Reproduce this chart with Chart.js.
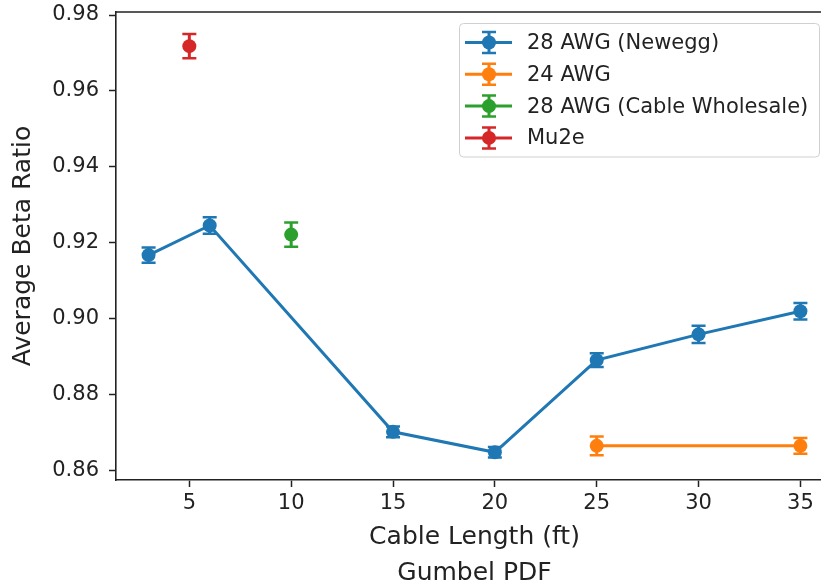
<!DOCTYPE html>
<html>
<head>
<meta charset="utf-8">
<script src="https://cdn.jsdelivr.net/npm/chart.js@4.4.1/dist/chart.umd.min.js"></script>
<style>
  html, body { margin: 0; padding: 0; background: #fff; }
  #wrap { width: 821px; height: 585px; overflow: hidden; position: relative; }
  canvas { display: block; }
</style>
</head>
<body>
<div id="wrap"><canvas id="c" width="840" height="585"></canvas></div>
<script>
// Cable length (ft) and measured average beta ratio with 1-sigma errors
const neweggLength = [3, 6, 15, 20, 25, 30, 35];
const neweggBeta   = [0.9167, 0.9245, 0.8701, 0.8647, 0.8890, 0.8958, 0.9019];
const neweggErr    = [0.0020, 0.0022, 0.0014, 0.0014, 0.0018, 0.0023, 0.0022];

const awg24Length = [25, 35];
const awg24Beta   = [0.8664, 0.8664];
const awg24Err    = [0.0025, 0.0021];

const wholesaleLength = [10];
const wholesaleBeta   = [0.9221];
const wholesaleErr    = [0.0032];

const mu2eLength = [5];
const mu2eBeta   = [0.9718];
const mu2eErr    = [0.0032];

const seriesNames = ['28 AWG (Newegg)', '24 AWG', '28 AWG (Cable Wholesale)', 'Mu2e'];
const seriesColors = ['#1f77b4', '#ff7f0e', '#2ca02c', '#d62728'];

const xTickValues = [5, 10, 15, 20, 25, 30, 35];
const yTickValues = [0.86, 0.88, 0.90, 0.92, 0.94, 0.96, 0.98];

const X_MIN = 1.4, X_MAX = 36.6;
const Y_MIN = 0.8574, Y_MAX = 0.9808;

const FONT = 'DejaVu Sans';
const INK = '#222';

function points(xs, ys, es) {
  return xs.map((x, i) => ({ x: x, y: ys[i], err: es[i] }));
}

function makeDataset(i, xs, ys, es) {
  return {
    label: seriesNames[i],
    data: points(xs, ys, es),
    borderColor: seriesColors[i],
    backgroundColor: seriesColors[i],
    pointBackgroundColor: seriesColors[i],
    pointBorderWidth: 0,
    pointRadius: 7,
    pointHoverRadius: 7,
    borderWidth: 3,
    showLine: true,
    fill: false,
    tension: 0
  };
}

// vertical error bars with caps, drawn underneath the markers
const errorBars = {
  id: 'errorBars',
  beforeDatasetsDraw(chart) {
    const ctx = chart.ctx;
    const ys = chart.scales.y;
    chart.data.datasets.forEach((ds, di) => {
      const meta = chart.getDatasetMeta(di);
      ctx.save();
      ctx.strokeStyle = ds.borderColor;
      ds.data.forEach((p, i) => {
        const el = meta.data[i];
        const px = el.x;
        const top = ys.getPixelForValue(p.y + p.err);
        const bot = ys.getPixelForValue(p.y - p.err);
        ctx.lineWidth = 3;
        ctx.beginPath();
        ctx.moveTo(px, top);
        ctx.lineTo(px, bot);
        ctx.stroke();
        ctx.lineWidth = 2.5;
        ctx.beginPath();
        ctx.moveTo(px - 7, top); ctx.lineTo(px + 7, top);
        ctx.moveTo(px - 7, bot); ctx.lineTo(px + 7, bot);
        ctx.stroke();
      });
      ctx.restore();
    });
  }
};

// top and right spines of the axes box
const frame = {
  id: 'frame',
  afterDraw(chart) {
    const { ctx, chartArea: a } = chart;
    ctx.save();
    ctx.strokeStyle = INK;
    ctx.lineWidth = 1.6;
    ctx.beginPath();
    ctx.moveTo(a.left, a.top);
    ctx.lineTo(a.right, a.top);
    ctx.lineTo(a.right, a.bottom);
    ctx.stroke();
    ctx.restore();
  }
};

// boxed legend with errorbar handles
const errLegend = {
  id: 'errLegend',
  afterDraw(chart) {
    const ctx = chart.ctx;
    const bx = 459.5, by = 23.5, bw = 360, bh = 133.5, r = 4;
    ctx.save();
    ctx.beginPath();
    ctx.moveTo(bx + r, by);
    ctx.lineTo(bx + bw - r, by);
    ctx.arcTo(bx + bw, by, bx + bw, by + r, r);
    ctx.lineTo(bx + bw, by + bh - r);
    ctx.arcTo(bx + bw, by + bh, bx + bw - r, by + bh, r);
    ctx.lineTo(bx + r, by + bh);
    ctx.arcTo(bx, by + bh, bx, by + bh - r, r);
    ctx.lineTo(bx, by + r);
    ctx.arcTo(bx, by, bx + r, by, r);
    ctx.closePath();
    ctx.fillStyle = 'rgba(255,255,255,0.8)';
    ctx.fill();
    ctx.strokeStyle = '#d0d0d0';
    ctx.lineWidth = 1;
    ctx.stroke();

    chart.data.datasets.forEach((ds, i) => {
      const cy = 42.5 + i * 31.8;
      const hx0 = 465, hx1 = 512, hx = 489;
      ctx.strokeStyle = ds.borderColor;
      ctx.lineWidth = 3;
      ctx.beginPath();
      ctx.moveTo(hx0, cy); ctx.lineTo(hx1, cy);
      ctx.moveTo(hx, cy - 10.5); ctx.lineTo(hx, cy + 10.5);
      ctx.stroke();
      ctx.lineWidth = 2.5;
      ctx.beginPath();
      ctx.moveTo(hx - 7, cy - 10.5); ctx.lineTo(hx + 7, cy - 10.5);
      ctx.moveTo(hx - 7, cy + 10.5); ctx.lineTo(hx + 7, cy + 10.5);
      ctx.stroke();
      ctx.fillStyle = ds.borderColor;
      ctx.beginPath();
      ctx.arc(hx, cy, 7, 0, Math.PI * 2);
      ctx.fill();

      ctx.fillStyle = INK;
      ctx.font = '21px "' + FONT + '"';
      ctx.textAlign = 'left';
      ctx.textBaseline = 'middle';
      ctx.fillText(ds.label, 527, cy + 1);
    });
    ctx.restore();
  }
};

const axisCommon = {
  type: 'linear',
  grid: {
    drawOnChartArea: false,
    drawTicks: true,
    tickLength: 7,
    tickWidth: 1.5,
    tickColor: INK
  },
  border: { display: true, color: INK, width: 1.6 }
};

new Chart(document.getElementById('c'), {
  type: 'line',
  data: {
    datasets: [
      makeDataset(0, neweggLength, neweggBeta, neweggErr),
      makeDataset(1, awg24Length, awg24Beta, awg24Err),
      makeDataset(2, wholesaleLength, wholesaleBeta, wholesaleErr),
      makeDataset(3, mu2eLength, mu2eBeta, mu2eErr)
    ]
  },
  options: {
    responsive: false,
    animation: false,
    devicePixelRatio: 1,
    layout: { padding: { top: 12, right: 7, left: 0, bottom: 0 } },
    plugins: { legend: { display: false }, tooltip: { enabled: false } },
    scales: {
      x: Object.assign({}, axisCommon, {
        min: X_MIN,
        max: X_MAX,
        afterBuildTicks(s) { s.ticks = xTickValues.map(v => ({ value: v })); },
        afterFit(s) { s.height = 105; s.paddingLeft = 0; s.paddingRight = 0; },
        ticks: {
          autoSkip: false,
          maxRotation: 0,
          color: INK,
          padding: 4,
          font: { family: FONT, size: 21 },
          callback: v => String(v)
        },
        title: {
          display: true,
          text: ['Cable Length (ft)', 'Gumbel PDF'],
          color: INK,
          font: { family: FONT, size: 25, lineHeight: 1.43 },
          padding: { top: 0, bottom: -6 }
        }
      }),
      y: Object.assign({}, axisCommon, {
        min: Y_MIN,
        max: Y_MAX,
        afterBuildTicks(s) { s.ticks = yTickValues.map(v => ({ value: v })); },
        afterFit(s) { s.width = 116; s.paddingTop = 0; s.paddingBottom = 0; },
        ticks: {
          autoSkip: false,
          color: INK,
          padding: 10,
          font: { family: FONT, size: 21 },
          callback: v => Number(v).toFixed(2)
        },
        title: {
          display: true,
          text: 'Average Beta Ratio',
          color: INK,
          font: { family: FONT, size: 25, lineHeight: 1.2 },
          padding: { top: 8, bottom: 0 }
        }
      })
    }
  },
  plugins: [errorBars, frame, errLegend]
});
</script>
</body>
</html>
